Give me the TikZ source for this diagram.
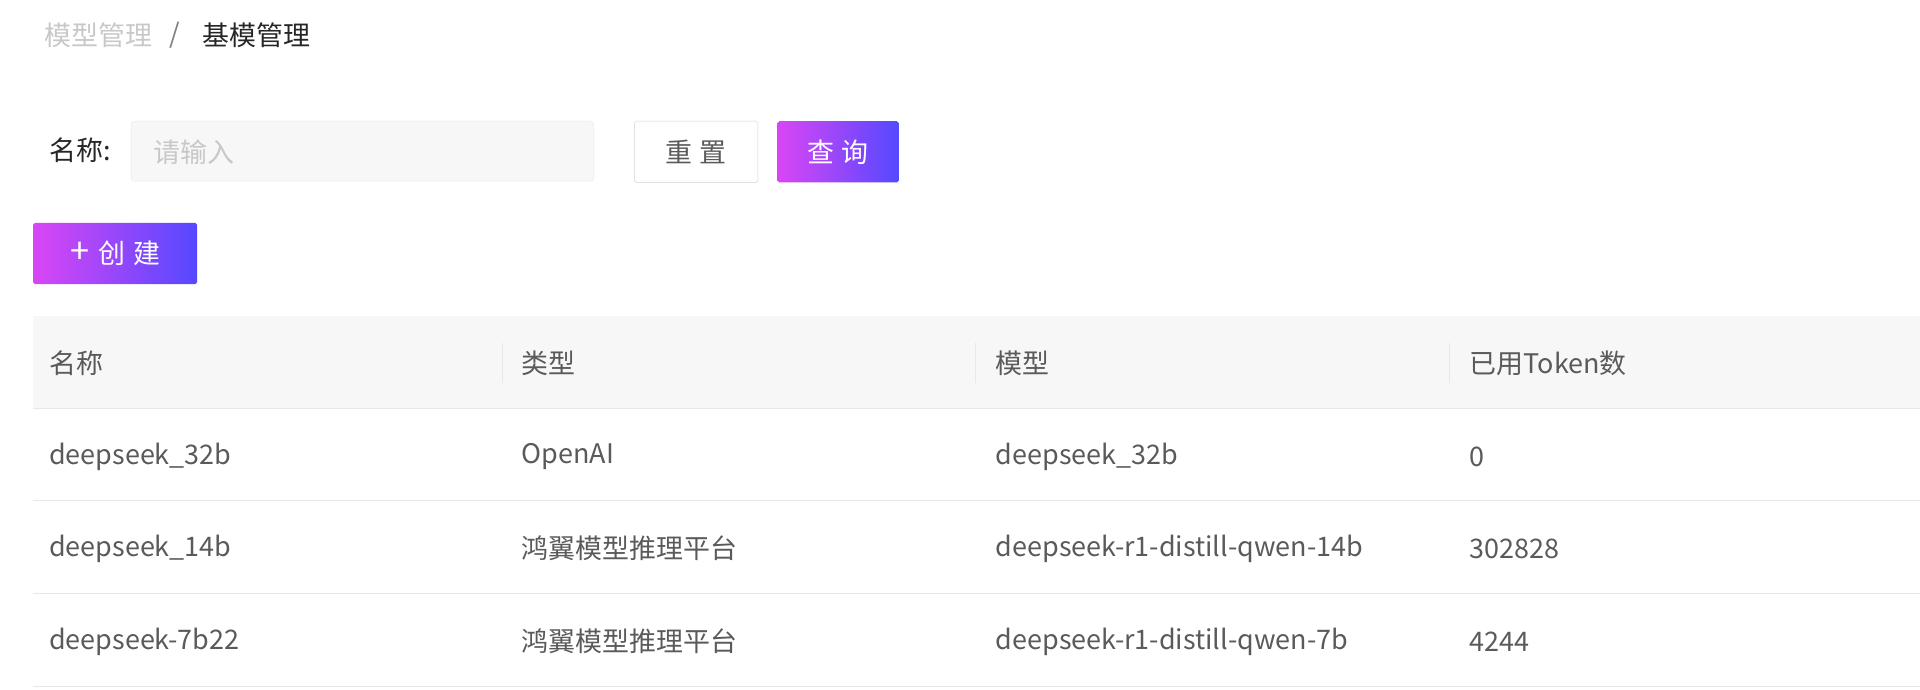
\documentclass[tikz,border=0pt]{standalone}
\usepackage{fontspec}
\setmainfont{Noto Sans CJK SC}
\definecolor{txtgray}{HTML}{5A5A5A}
\definecolor{lightgray}{HTML}{C8C8C8}
\definecolor{bandgray}{HTML}{F7F7F7}
\definecolor{linegray}{HTML}{E8E8E8}
\definecolor{gradpink}{HTML}{D946F5}
\definecolor{gradblue}{HTML}{5548FF}
\usetikzlibrary{positioning}

\begin{document}
\begin{tikzpicture}[x=1pt, y=-1pt,
        lbl/.style={font=\fontsize{22}{26}\selectfont, text=txtgray, anchor=west, inner sep=0pt},
        gradbtn/.style={left color=gradpink, right color=gradblue, draw=none,
                        rounded corners=1.5pt, font=\fontsize{22}{26}\selectfont,
                        text=white, inner sep=0pt},
        plainbtn/.style={draw=linegray!80!gray, fill=white, rounded corners=1.5pt,
                         font=\fontsize{22}{26}\selectfont, text=txtgray, inner sep=0pt},
        sep/.style={draw=linegray, line width=0.8pt}
      ]
        \useasboundingbox (0,0) rectangle (1568,563);

        % breadcrumb
        \node[lbl, text=lightgray] (crumb) at (36,29) {模型管理};
        \node[lbl, text=gray] (slash) at (138,29) {/};
        \node[lbl, text=black!85] (here) at (165,29) {基模管理};

        % search row
        \node[lbl, text=black!85] (namelbl) at (40,123) {名称:};
        \node[draw=linegray, fill=bandgray, rounded corners=3pt, minimum width=378pt,
              minimum height=49pt, inner sep=0pt] (input) at (296,123.5) {};
        \node[lbl, text=lightgray] (hint) at (125,124) {请输入};
        \node[plainbtn, minimum width=101pt, minimum height=50pt] (reset) at (568.5,124) {重\hspace{6pt}置};
        \node[gradbtn, minimum width=99pt, minimum height=50pt] (query) at (684.5,124) {查\hspace{6pt}询};
        \node[gradbtn, minimum width=134pt, minimum height=50pt] (create) at (94,207)
          {{\fontsize{28}{28}\selectfont +}\hspace{8pt}创\hspace{6pt}建};

        % table header
        \fill[bandgray] (27,258) rectangle (1568,334);
        \foreach \xs in {410,797,1184}
          \draw[sep] (\xs,280) -- (\xs,313);
        \node[lbl] (h1) at (40,297) {名称};
        \node[lbl] (h2) at (426,297) {类型};
        \node[lbl] (h3) at (813,297) {模型};
        \node[lbl] (h4) at (1200,297) {已用Token数};

        % rows
        \foreach \ys in {334,409,485,561}
          \draw[sep] (27,\ys) -- (1568,\ys);
        \node[lbl] (r1a) at (40,373) {deepseek\_32b};
        \node[lbl] (r1b) at (426,373) {OpenAI};
        \node[lbl] (r1c) at (813,373) {deepseek\_32b};
        \node[lbl] (r1d) at (1200,373) {0};
        \node[lbl] (r2a) at (40,448) {deepseek\_14b};
        \node[lbl] (r2b) at (426,448) {鸿翼模型推理平台};
        \node[lbl] (r2c) at (813,448) {deepseek-r1-distill-qwen-14b};
        \node[lbl] (r2d) at (1200,448) {302828};
        \node[lbl] (r3a) at (40,524) {deepseek-7b22};
        \node[lbl] (r3b) at (426,524) {鸿翼模型推理平台};
        \node[lbl] (r3c) at (813,524) {deepseek-r1-distill-qwen-7b};
        \node[lbl] (r3d) at (1200,524) {4244};
      \end{tikzpicture}
\end{document}
